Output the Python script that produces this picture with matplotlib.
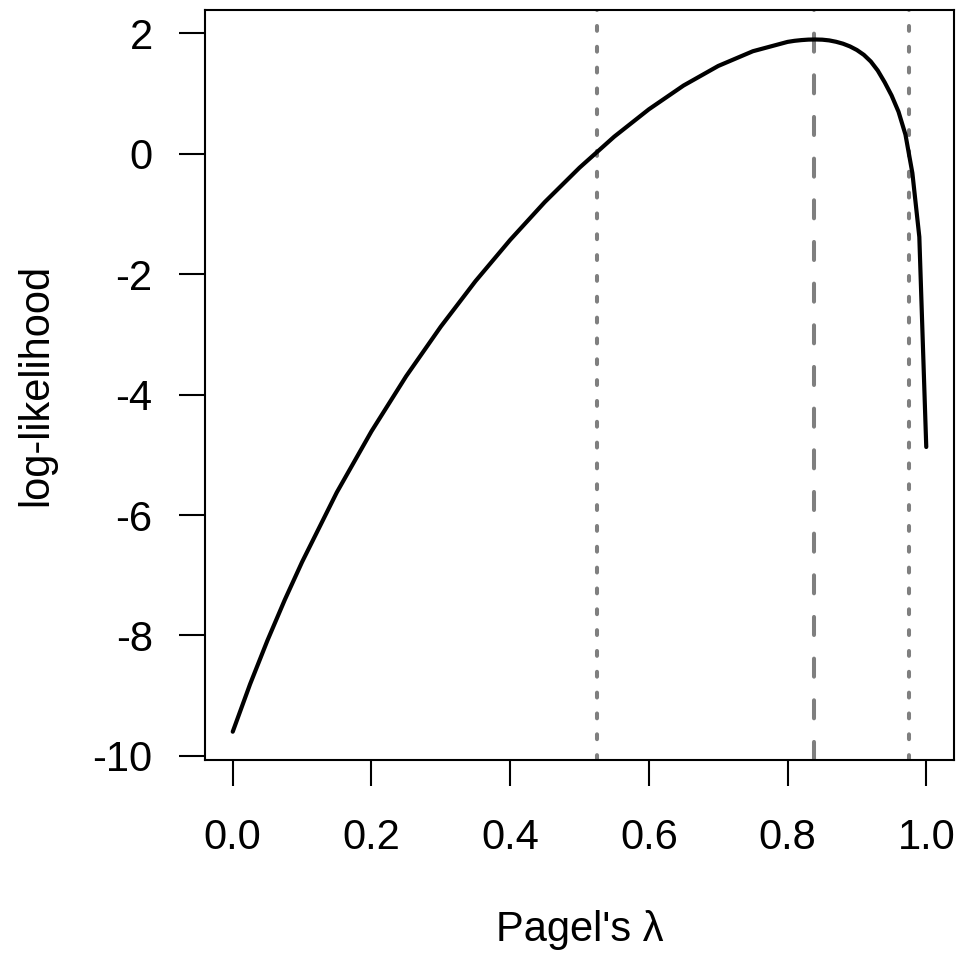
import numpy as np
import matplotlib
matplotlib.use("Agg")
import matplotlib.pyplot as plt

plt.rcParams['font.family'] = ['Liberation Sans', 'DejaVu Sans']
plt.rcParams['lines.scale_dashes'] = False

# profile log-likelihood for Pagel's lambda
lam = [0.0, 0.025, 0.05, 0.075, 0.1, 0.15, 0.2, 0.25, 0.3, 0.35, 0.4, 0.45,
       0.5, 0.55, 0.6, 0.65, 0.7, 0.75, 0.8, 0.81, 0.82, 0.83, 0.84, 0.85,
       0.86, 0.87, 0.88, 0.89, 0.9, 0.91, 0.92, 0.93, 0.94, 0.95, 0.96,
       0.97, 0.98, 0.99, 1.0]
loglik = [-9.60, -8.81, -8.085, -7.41, -6.78, -5.625, -4.61, -3.695, -2.87,
          -2.115, -1.43, -0.80, -0.23, 0.285, 0.74, 1.135, 1.46, 1.705, 1.86,
          1.878, 1.89, 1.898, 1.90, 1.897, 1.885, 1.862, 1.83, 1.785, 1.725,
          1.645, 1.535, 1.385, 1.19, 0.97, 0.70, 0.32, -0.32, -1.38, -4.87]

lam_ml = 0.838          # ML estimate (dashed)
ci = [0.5256, 0.9752]   # confidence interval (dotted)

xticks = [0.0, 0.2, 0.4, 0.6, 0.8, 1.0]
yticks = [-10, -8, -6, -4, -2, 0, 2]

fig = plt.figure(figsize=(9.58, 9.56), dpi=100)
ax = fig.add_axes([205/958, 1 - 760/956, 749/958, 750/956])

ax.plot(lam, loglik, color='black', lw=3.0, solid_capstyle='round',
        solid_joinstyle='round', zorder=3)
ax.axvline(lam_ml, color='#7f7f7f', lw=2.9, dash_capstyle='round',
           dashes=(13, 17), zorder=2)
for c in ci:
    ax.axvline(c, color='#7f7f7f', lw=2.9, dash_capstyle='round',
               dashes=(3.5, 11.5), zorder=2)

ax.set_xlim(-0.04, 1.04)
ax.set_ylim(-10.07, 2.39)
ax.set_xticks(xticks)
ax.set_xticklabels(['%.1f' % v for v in xticks])
ax.set_yticks(yticks)
ax.set_yticklabels([str(v) for v in yticks])

for s in ax.spines.values():
    s.set_linewidth(1.5)
ax.tick_params(direction='out', length=18.7, width=1.5, labelsize=30)
ax.tick_params(axis='x', pad=23)
ax.tick_params(axis='y', pad=19)

ax.set_xlabel("Pagel's λ", fontsize=30)
ax.xaxis.label.set_va('baseline')
ax.xaxis.set_label_coords(0.5, (760 - 941) / 750)
ax.set_ylabel('log-likelihood', fontsize=30)
ax.yaxis.label.set_va('baseline')
ax.yaxis.set_label_coords((47 - 205) / 749, 0.5)

fig.savefig('out.png', dpi=100)
